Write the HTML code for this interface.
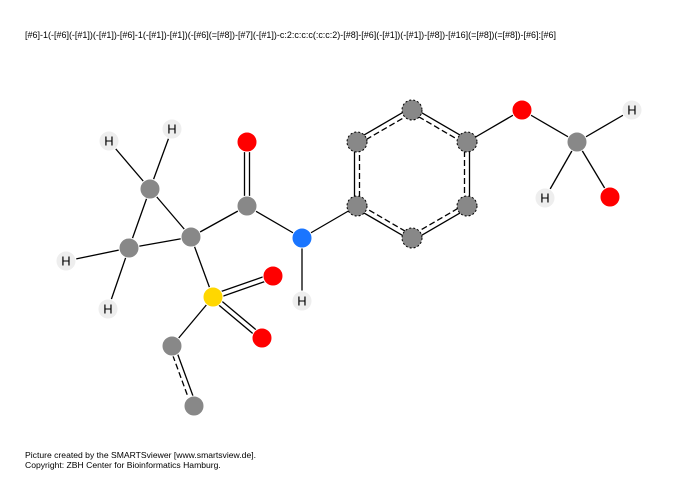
<!DOCTYPE html>
<html><head><meta charset="utf-8"><style>
body{margin:0;background:#fff;width:700px;height:486px;overflow:hidden}
svg{display:block;font-family:"Liberation Sans",sans-serif}
</style></head><body>
<svg id="mol" width="700" height="486" viewBox="0 0 700 486">
<text x="25" y="38" font-size="9" textLength="531" lengthAdjust="spacingAndGlyphs" fill="#000">[#6]-1(-[#6](-[#1])(-[#1])-[#6]-1(-[#1])-[#1])(-[#6](=[#8])-[#7](-[#1])-c:2:c:c:c(:c:c:2)-[#8]-[#6](-[#1])(-[#1])-[#8])-[#16](=[#8])(=[#8])-[#6]:[#6]</text>
<text x="25" y="458" font-size="8.6">Picture created by the SMARTSviewer [www.smartsview.de].</text>
<text x="25" y="468" font-size="8.6">Copyright: ZBH Center for Bioinformatics Hamburg.</text>
<g id="bonds"></g><g id="atoms"></g>
</svg>
<script>
const atomEls=["C","C","C","H","H","H","H","C","O","N","H","C","C","C","C","C","C","O","C","H","H","O","S","O","O","C","C"];
const atomX=[191,150,129,109,172,66,108,247,247,302,302,357,357,412,467,467,412,522,577,632,545,610,213,273,262,172,194];
const atomY=[237,189,248,141,129,261,309,206,142,238,301,206,142,110,142,206,238,110,142,110,198,197,297,276,338,346,406];
const aromatic=[0,0,0,0,0,0,0,0,0,0,0,1,1,1,1,1,1,0,0,0,0,0,0,0,0,0,0];
const bondA=[0,1,2,1,1,2,2,0,7,7,9,9,11,12,13,14,15,16,14,17,18,18,18,18,0,22,22,22,25];
const bondB=[1,2,0,3,4,5,6,7,8,9,10,11,12,13,14,15,16,11,17,18,19,20,21,19,22,23,24,25,26];
const bondType=["s","s","s","s","s","s","s","s","d","s","s","s","a","a","a","a","a","a","s","s","s","s","s","x","s","d","d","s","a"];
const colors={C:"#888888",O:"#ff0000",N:"#1a75ff",S:"#ffd700",H:"#eeeeee"};
const NS="http://www.w3.org/2000/svg";
const bg=document.getElementById("bonds"),ag=document.getElementById("atoms");
function line(x1,y1,x2,y2,dash){const l=document.createElementNS(NS,"line");
l.setAttribute("x1",x1);l.setAttribute("y1",y1);l.setAttribute("x2",x2);l.setAttribute("y2",y2);
l.setAttribute("stroke","#000");l.setAttribute("stroke-width","1.3");if(dash)l.setAttribute("stroke-dasharray","6,3");


bg.appendChild(l);}
const cx=412,cy=174;
for(let i=0;i<bondA.length;i++){const t=bondType[i];if(t==="x")continue;
 const a=bondA[i],b=bondB[i];const x1=atomX[a],y1=atomY[a],x2=atomX[b],y2=atomY[b];
 const dx=x2-x1,dy=y2-y1,L=Math.hypot(dx,dy),nx=-dy/L,ny=dx/L;
 if(t==="s")line(x1,y1,x2,y2,false);
 else if(t==="d"){line(x1+nx*2.5,y1+ny*2.5,x2+nx*2.5,y2+ny*2.5,false);line(x1-nx*2.5,y1-ny*2.5,x2-nx*2.5,y2-ny*2.5,false);}
 else{let s=1;if(aromatic[a]&&aromatic[b]){const mx=(x1+x2)/2,my=(y1+y2)/2;s=((cx-mx)*nx+(cy-my)*ny)>0?1:-1;}
  line(x1-s*nx*2.5,y1-s*ny*2.5,x2-s*nx*2.5,y2-s*ny*2.5,false);
  line(x1+s*nx*2.5,y1+s*ny*2.5,x2+s*nx*2.5,y2+s*ny*2.5,true);}
}
for(let i=0;i<atomEls.length;i++){const e=atomEls[i];
 const c=document.createElementNS(NS,"circle");
 c.setAttribute("cx",atomX[i]);c.setAttribute("cy",atomY[i]);c.setAttribute("r","10");
 c.setAttribute("fill",colors[e]);
 if(aromatic[i]){c.setAttribute("stroke","#000");c.setAttribute("stroke-dasharray","2,2");c.setAttribute("stroke-width","1");}
 else{c.setAttribute("stroke","#fff");c.setAttribute("stroke-width","1");}
 
 
 ag.appendChild(c);
 if(e==="H"){const t=document.createElementNS(NS,"text");t.setAttribute("x",atomX[i]);t.setAttribute("y",atomY[i]+4.5);
  t.setAttribute("text-anchor","middle");t.setAttribute("font-size","13");t.textContent="H";
  
  
  ag.appendChild(t);}
}
</script>
</body></html>
